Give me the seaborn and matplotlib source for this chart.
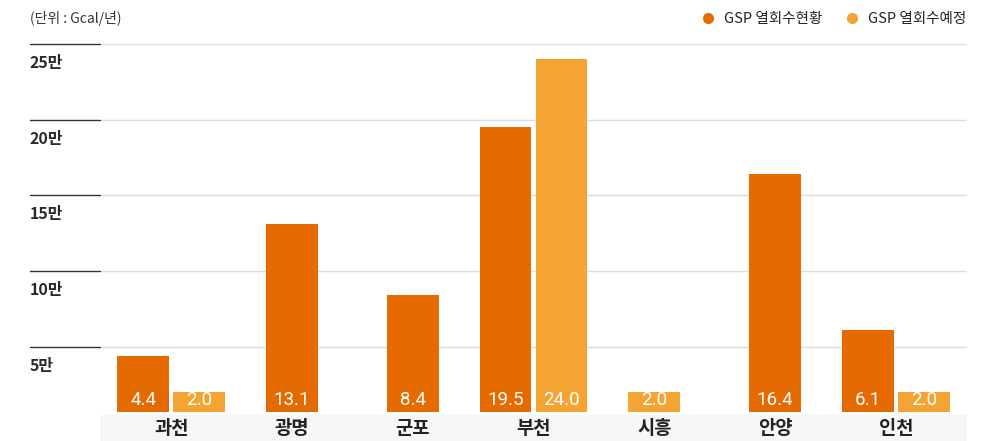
import numpy as np
import pandas as pd
import matplotlib
matplotlib.use("Agg")
import matplotlib.pyplot as plt
import matplotlib.transforms as mtransforms
from matplotlib.lines import Line2D
from matplotlib.patches import Rectangle
import seaborn as sns

# data (단위: 만 Gcal/년)
regions = ["과천", "광명", "군포", "부천", "시흥", "안양", "인천"]
current = [4.4, 13.1, 8.4, 19.5, np.nan, 16.4, 6.1]
planned = [2.0, np.nan, np.nan, 24.0, 2.0, np.nan, 2.0]
series_names = ["GSP 열회수현황", "GSP 열회수예정"]
yticks = [5, 10, 15, 20, 25]
ytick_labels = ["5만", "10만", "15만", "20만", "25만"]

colors = {"GSP 열회수현황": "#E56B00", "GSP 열회수예정": "#F4A432"}
OFFSET = 0.232
BAR_W = 0.43

# long table, bars are centred when a region has only one series
rows = []
for i, r in enumerate(regions):
    vals = [current[i], planned[i]]
    both = not np.isnan(vals[0]) and not np.isnan(vals[1])
    for j, name in enumerate(series_names):
        if np.isnan(vals[j]):
            continue
        off = (-OFFSET if j == 0 else OFFSET) if both else 0.0
        rows.append({"region": r, "series": name, "value": vals[j], "pos": i + off})
df = pd.DataFrame(rows)

sns.set_theme(style="white")
plt.rcParams["font.family"] = ["Noto Sans CJK KR", "DejaVu Sans"]

W, H = 1008, 441
fig = plt.figure(figsize=(W / 100, H / 100), dpi=100)
ax = fig.add_axes([100 / W, 29 / H, 867 / W, (412 - 44) / H])

min_gap = np.min(np.diff(np.unique(df["pos"])))
sns.barplot(data=df, x="pos", y="value", hue="series", palette=colors,
            native_scale=True, dodge=False, width=BAR_W / min_gap,
            legend=False, ax=ax, saturation=1, linewidth=0, zorder=3)

ax.set_xlim(-0.59, len(regions) - 1 + 0.59)
ax.set_ylim(0.7, 25)
ax.set_yticks(yticks)
ax.set_yticklabels([])
ax.tick_params(axis="y", length=0)
ax.grid(axis="y", color="#dedede", linewidth=1, zorder=0)
ax.grid(axis="x", visible=False)
for s in ax.spines.values():
    s.set_visible(False)
ax.set_xlabel("")
ax.set_ylabel("")

# category band and labels
ax.add_patch(Rectangle((0, -29 / 368), 1, 26 / 368, transform=ax.transAxes,
                       facecolor="#f5f7f7", edgecolor="none", clip_on=False, zorder=0))
ax.set_xticks(range(len(regions)))
ax.set_xticklabels(regions, fontsize=13.5, fontweight="bold", color="#222222")
ax.tick_params(axis="x", length=0, pad=5)

# left dark tick segments + y labels under the gridlines
trans = mtransforms.blended_transform_factory(ax.transAxes, ax.transData)
lab_trans = mtransforms.offset_copy(trans, fig=fig, y=-19, units="dots")
for v, lab in zip(yticks, ytick_labels):
    ax.plot([-70 / 867, 0], [v, v], transform=trans, color="#333333",
            linewidth=1, clip_on=False)
    ax.text(-70 / 867, v, lab, transform=lab_trans, ha="left", va="center",
            fontsize=11.5, fontweight="bold", color="#2a2a2a")

# value labels inside the bars, near the bottom
vtrans = mtransforms.blended_transform_factory(ax.transData, ax.transAxes)
for _, row in df.iterrows():
    ax.text(row["pos"], 12 / 368, f"{row['value']:.1f}", transform=vtrans,
            ha="center", va="center", fontsize=13.5, color="white",
            family=["Roboto", "DejaVu Sans"], zorder=5)

# unit + legend
fig.text(30 / W, 1 - 19 / H, "(단위 : Gcal/년)", fontsize=10, color="#333333",
         ha="left", va="center")
handles = [Line2D([], [], marker="o", linestyle="none", markersize=8,
                  markerfacecolor=colors[n], markeredgewidth=0) for n in series_names]
fig.legend(handles, series_names, loc="center right",
           bbox_to_anchor=(972 / W, 1 - 19 / H), ncol=2, frameon=False,
           fontsize=10.5, handletextpad=0.1, columnspacing=1.0, borderaxespad=0,
           labelcolor="#222222")

fig.savefig("out.png", dpi=100, facecolor="white")
